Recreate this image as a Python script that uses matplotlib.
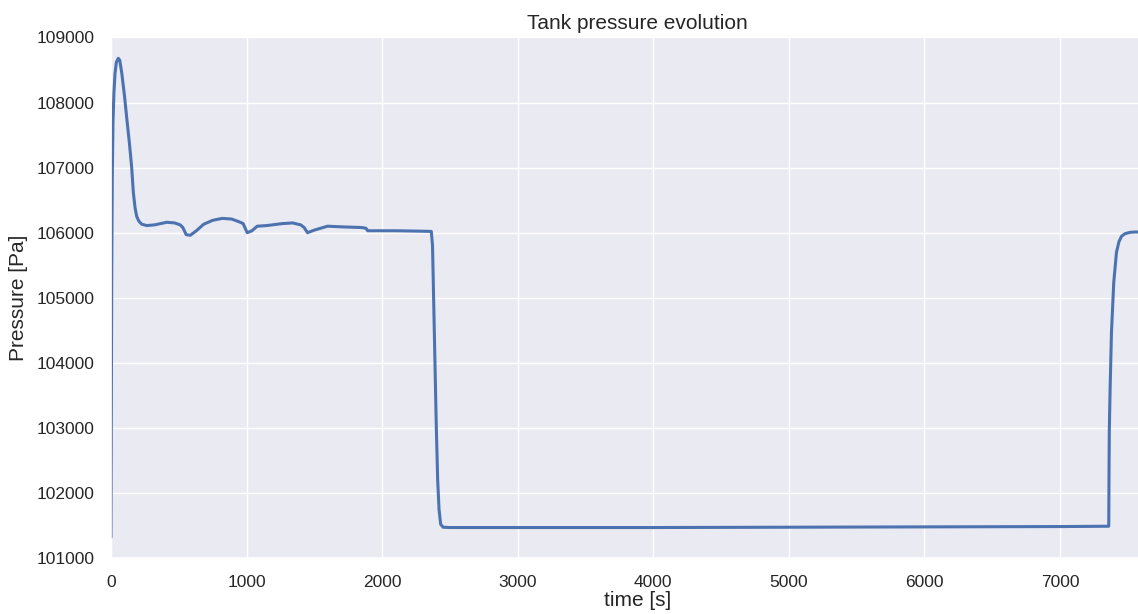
import numpy as np
import pandas
import matplotlib
matplotlib.use("Agg")
import matplotlib.pyplot as plt
import seaborn as sns

## values
time_s = [0, 3, 6, 10, 15, 22, 30, 40, 54, 65, 80, 100, 116, 135, 153, 165, 178,
          190, 205, 227, 264, 320, 412, 470, 511, 530, 555, 585, 630, 684, 750,
          820, 890, 943, 975, 1005, 1040, 1079, 1150, 1264, 1340, 1400, 1425,
          1450, 1500, 1598, 1700, 1844, 1880, 1894, 1950, 2100, 2250, 2363,
          2372, 2380, 2390, 2400, 2410, 2420, 2432, 2450, 2500, 3000, 4000,
          5000, 6000, 7000, 7360, 7362, 7364, 7370, 7380, 7397, 7417, 7435,
          7454, 7480, 7515, 7545, 7600, 7700, 7800]
pressure = [101320, 103500, 105500, 106900, 107700, 108150, 108450, 108620,
            108680, 108650, 108450, 108100, 107770, 107400, 107000, 106620,
            106380, 106250, 106180, 106130, 106110, 106120, 106160, 106150,
            106120, 106080, 105970, 105960, 106030, 106130, 106190, 106220,
            106210, 106170, 106140, 106000, 106030, 106100, 106110, 106140,
            106150, 106120, 106080, 106000, 106040, 106100, 106090, 106080,
            106070, 106030, 106030, 106030, 106025, 106020, 105800, 105000,
            104000, 103000, 102200, 101750, 101520, 101475, 101470, 101470,
            101470, 101475, 101480, 101485, 101490, 102300, 102950, 103600,
            104470, 105240, 105700, 105860, 105945, 105985, 106005, 106010,
            106012, 106015, 106015]

dat = pandas.DataFrame({"time": time_s, "pressure": pressure})

sns.set_theme(style="darkgrid")
plt.rcParams['font.family'] = ['Liberation Sans', 'DejaVu Sans']

fig = plt.figure(figsize=(11.38, 6.14), dpi=100)
# the original picture is cut off on the right, so the axes run past the edge
ax = fig.add_axes([0.0975, 0.091, 0.926, 0.848])
ax.plot(dat["time"], dat["pressure"], color="#4c72b0", linewidth=2.2)
ax.set_xlim(0, 7773)
ax.set_ylim(101000, 109000)
ax.set_yticks(np.arange(101000, 109001, 1000))
ax.set_xticks(np.arange(0, 7001, 1000))
ax.tick_params(labelsize=12.5, pad=6)
ax.set_title("Tank pressure evolution", fontsize=15, pad=6)
ax.set_xlabel("time [s]", fontsize=15, labelpad=1)
ax.set_ylabel("Pressure [Pa]", fontsize=15, labelpad=6)
ax.ticklabel_format(useOffset=False, style="plain", axis="y")
plt.savefig("out.png", dpi=100)
